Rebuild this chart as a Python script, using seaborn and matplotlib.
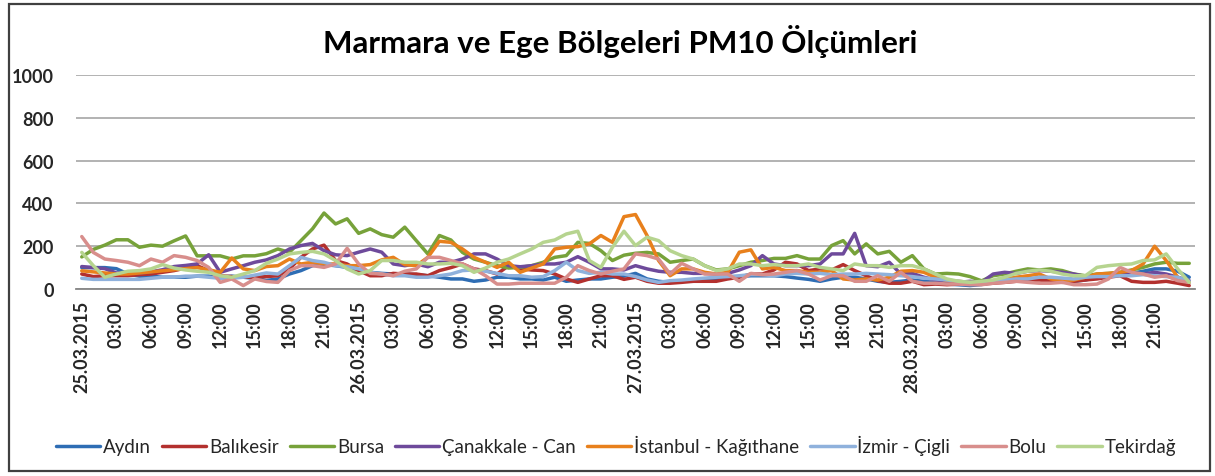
import numpy as np
import pandas as pd
import matplotlib
matplotlib.use("Agg")
import matplotlib.pyplot as plt
from matplotlib.patches import Rectangle
import seaborn as sns

# --- PM10 hourly measurements, 25.03.2015 00:00 -> 29.03.2015 00:00 (97 hours) ---

stations = ["Aydın", "Balıkesir", "Bursa", "Çanakkale - Can", "İstanbul - Kağıthane",
            "İzmir - Çigli", "Bolu", "Tekirdağ"]
colors = ["#2E6DB4", "#B3302E", "#77A23A", "#6E4A9B", "#E8801C", "#8FB1DC", "#D88E8C", "#B6D48F"]

aydin = [100, 100, 100, 95, 70, 60, 60, 55, 55, 55, 60, 60, 55, 60, 55, 50, 40,
         47, 70, 86, 109, 114, 109, 101, 86, 78, 73, 70, 70, 67, 62, 55, 47,
         47, 36, 42, 55, 55, 47, 47, 42, 55, 36, 42, 47, 47, 55, 60,
         73, 47, 36, 31, 36, 36, 42, 47, 55, 58, 62, 62, 62, 58, 51, 45,
         36, 47, 55, 55, 47, 36, 31, 36, 42, 36, 31, 23, 20, 16, 21,
         31, 36, 42, 47, 47, 42, 36, 36, 42, 55, 62, 70, 73, 83, 94, 94, 83, 55]
balikesir = [70, 58, 62, 62, 62, 67, 70, 78, 86, 98, 109, 86, 62, 58, 55, 55, 58,
             62, 94, 148, 187, 205, 133, 117, 86, 62, 62, 73, 70, 70, 62, 86, 100,
             117, 94, 86, 70, 109, 94, 89, 86, 70, 47, 31, 47, 62, 62, 45,
             55, 36, 27, 27, 31, 36, 36, 36, 47, 55, 70, 70, 89, 125, 117, 86,
             94, 89, 114, 86, 62, 39, 27, 27, 36, 20, 23, 20, 23, 27, 23,
             27, 31, 36, 39, 42, 36, 31, 36, 42, 47, 55, 62, 36, 31, 31, 36, 27, 16]
bursa = [150, 185, 205, 230, 230, 195, 205, 200, 225, 248, 155, 155, 155, 140, 155, 155, 165,
         187, 171, 226, 281, 355, 304, 328, 260, 281, 254, 242, 289, 226, 164, 250, 229,
         171, 140, 125, 109, 98, 101, 109, 125, 148, 156, 218, 213, 179, 133, 158,
         167, 171, 164, 125, 133, 140, 109, 89, 94, 109, 125, 133, 143, 143, 156, 140,
         140, 203, 226, 164, 211, 164, 176, 125, 156, 94, 70, 73, 70, 58, 38,
         62, 70, 83, 94, 89, 94, 86, 70, 62, 70, 73, 78, 89, 101, 117, 125, 120, 120]
canakkale = [105, 100, 95, 75, 75, 75, 80, 90, 105, 110, 117, 160, 78, 94, 109, 125, 136,
             156, 187, 203, 213, 179, 160, 156, 172, 187, 172, 117, 109, 117, 104, 125, 125,
             140, 164, 164, 140, 109, 104, 109, 117, 117, 125, 151, 125, 94, 94, 89,
             109, 94, 83, 78, 78, 73, 73, 70, 73, 89, 109, 156, 117, 109, 109, 109,
             117, 164, 164, 260, 109, 104, 125, 70, 73, 55, 42, 36, 31, 36, 31,
             70, 78, 73, 83, 86, 83, 78, 70, 58, 62, 70, 73, 70, 70, 78, 70, 55, 39]
istanbul = [85, 80, 75, 70, 70, 75, 80, 85, 90, 95, 100, 90, 78, 145, 94, 86, 105,
            109, 140, 117, 125, 117, 117, 109, 109, 114, 136, 148, 114, 109, 148, 223, 218,
            187, 148, 125, 101, 125, 78, 98, 117, 187, 195, 198, 211, 250, 218, 338,
            348, 250, 133, 62, 94, 94, 78, 70, 78, 172, 183, 94, 101, 86, 86, 78,
            78, 86, 47, 42, 47, 42, 55, 83, 86, 78, 55, 39, 36, 31, 31,
            39, 47, 55, 62, 70, 47, 39, 42, 55, 70, 73, 78, 86, 117, 200, 133, 55, 31]
izmir = [50, 45, 45, 45, 45, 45, 50, 55, 55, 60, 60, 55, 50, 50, 55, 65, 75,
         70, 109, 148, 133, 125, 109, 104, 94, 78, 70, 62, 62, 55, 55, 62, 70,
         86, 89, 83, 73, 62, 62, 55, 58, 86, 125, 86, 73, 78, 70, 70,
         58, 42, 31, 39, 42, 47, 51, 55, 58, 62, 67, 67, 62, 70, 73, 70,
         73, 67, 70, 70, 73, 70, 67, 62, 58, 51, 47, 42, 36, 31, 31,
         36, 42, 47, 47, 55, 55, 51, 47, 55, 58, 58, 62, 62, 67, 62, 58, 55, 36]
bolu = [245, 171, 140, 133, 125, 109, 140, 125, 156, 148, 133, 101, 31, 47, 16, 47, 35,
        31, 86, 109, 109, 101, 117, 190, 117, 73, 70, 62, 83, 94, 148, 148, 133,
        117, 94, 62, 23, 23, 27, 27, 27, 27, 55, 109, 86, 70, 83, 94,
        164, 156, 140, 70, 120, 94, 70, 70, 70, 36, 73, 67, 70, 78, 86, 70,
        42, 62, 62, 36, 36, 62, 36, 78, 36, 27, 27, 23, 23, 20, 20,
        27, 31, 36, 31, 27, 27, 31, 20, 20, 23, 47, 101, 78, 70, 55, 62, 39, 31]
tekirdag = [171, 109, 55, 70, 83, 86, 94, 114, 98, 89, 83, 78, 62, 55, 70, 86, 120,
            140, 164, 171, 176, 164, 133, 94, 70, 86, 133, 133, 125, 125, 117, 117, 120,
            109, 78, 98, 125, 140, 164, 187, 218, 229, 257, 270, 133, 101, 195, 270,
            203, 242, 226, 179, 156, 140, 109, 86, 94, 117, 117, 109, 114, 109, 109, 117,
            101, 94, 86, 117, 109, 109, 101, 109, 109, 94, 70, 47, 36, 31, 36,
            42, 55, 73, 83, 89, 83, 70, 62, 62, 101, 109, 114, 117, 133, 136, 164, 94, 31]

dates = ["25.03.2015", "26.03.2015", "27.03.2015", "28.03.2015"]
hour_labels = ["03:00", "06:00", "09:00", "12:00", "15:00", "18:00", "21:00"]

series = dict(zip(stations, [aydin, balikesir, bursa, canakkale, istanbul, izmir, bolu, tekirdag]))
for name, vals in series.items():
    assert len(vals) == 97, (name, len(vals))

df = pd.DataFrame(series)
df["saat"] = np.arange(len(df))
df_long = df.melt(id_vars="saat", var_name="istasyon", value_name="pm10")

sns.set_theme(style="white")
plt.rcParams["font.family"] = ["Lato", "DejaVu Sans"]

W, H = 1215, 477
fig = plt.figure(figsize=(W / 100, H / 100), dpi=100)
ax = fig.add_axes([76 / W, 1 - 290 / H, (1195 - 76) / W, (290 - 76) / H])

sns.lineplot(data=df_long, x="saat", y="pm10", hue="istasyon", hue_order=stations,
             palette=dict(zip(stations, colors)), linewidth=2.5, ax=ax)

ax.set_xlim(-0.5, len(df) - 0.5)
ax.set_ylim(0, 1000)
ax.set_yticks(range(0, 1001, 200))
ax.yaxis.grid(True, color="#A6A6A6", linewidth=1.2)
ax.set_axisbelow(True)

tick_pos = list(range(0, 96, 3))
tick_lab = [dates[p // 24] if p % 24 == 0 else hour_labels[(p % 24) // 3 - 1] for p in tick_pos]
ax.set_xticks(tick_pos)
ax.set_xticklabels(tick_lab, rotation=90, fontsize=13, fontweight="bold", va="top", ha="center")
ax.tick_params(axis="x", length=0, pad=8)
ax.tick_params(axis="y", length=0, pad=16, labelsize=13)
for lab in ax.get_yticklabels():
    lab.set_fontweight("bold")
ax.set_xlabel("")
ax.set_ylabel("")

for side in ["top", "right", "left"]:
    ax.spines[side].set_visible(False)
ax.spines["bottom"].set_color("#868686")
ax.spines["bottom"].set_linewidth(1.3)

handles, labels = ax.get_legend_handles_labels()
ax.get_legend().remove()
fig.legend(handles, labels, loc="center", bbox_to_anchor=(616 / W, 1 - 446 / H), ncol=8,
           frameon=False, fontsize=13.5, handlelength=2.35, handletextpad=0.15, columnspacing=0.6)

fig.text(620 / W, 1 - 42 / H, "Marmara ve Ege Bölgeleri PM10 Ölçümleri",
         ha="center", va="center", fontsize=22.5, fontweight="bold", color="black")

fig.patches.append(Rectangle((9 / W, 5 / H), (1210 - 9) / W, (472 - 5) / H,
                             transform=fig.transFigure, fill=False, edgecolor="#404040", linewidth=1.6))

fig.savefig("out.png", dpi=100)
